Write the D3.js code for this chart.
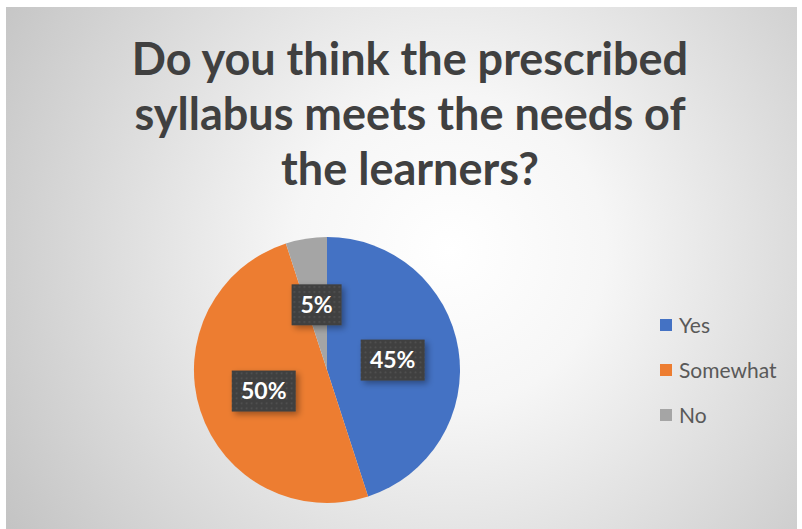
<!DOCTYPE html>
<html>
<head>
<meta charset="utf-8">
<script src="https://cdn.jsdelivr.net/npm/d3@7"></script>
<style>
  body { margin: 0; background: #fff; }
  svg { display: block; }
</style>
</head>
<body>
<div id="chart"></div>
<script>
// chart data
const categories = ["Yes", "Somewhat", "No"];
const values = [45, 50, 5];
const colors = ["#4472c4", "#ed7d31", "#a5a5a5"];
const titleLines = ["Do you think the prescribed", "syllabus meets the needs of", "the learners?"];

const w = 802;
const h = 529;
const cx = 327, cy = 370, r = 133;

const svg = d3.select("#chart").append("svg")
    .attr("width", w)
    .attr("height", h);

const defs = svg.append("defs");

// background gradient
const grad = defs.append("radialGradient")
    .attr("id", "bg")
    .attr("gradientUnits", "userSpaceOnUse")
    .attr("cx", 450).attr("cy", 250).attr("r", 520);
grad.append("stop").attr("offset", "0%").attr("stop-color", "#ffffff");
grad.append("stop").attr("offset", "30%").attr("stop-color", "#f6f6f6");
grad.append("stop").attr("offset", "100%").attr("stop-color", "#c4c4c4");

// dotted label fill
const pat = defs.append("pattern")
    .attr("id", "dots")
    .attr("patternUnits", "userSpaceOnUse")
    .attr("width", 5).attr("height", 5);
pat.append("rect").attr("width", 5).attr("height", 5).attr("fill", "#404040");
pat.append("rect").attr("x", 2).attr("y", 2).attr("width", 1.4).attr("height", 1.4).attr("fill", "#5a5a5a");

const shadow = defs.append("filter").attr("id", "shadow")
    .attr("x", "-30%").attr("y", "-30%").attr("width", "160%").attr("height", "160%");
shadow.append("feDropShadow")
    .attr("dx", 3).attr("dy", 3).attr("stdDeviation", 3)
    .attr("flood-color", "#000").attr("flood-opacity", 0.35);

// chart area
svg.append("rect")
    .attr("x", 6).attr("y", 7)
    .attr("width", 791).attr("height", h - 7)
    .attr("fill", "url(#bg)");

// title
const title = svg.append("text")
    .attr("text-anchor", "middle")
    .attr("font-family", "Lato, 'Open Sans', sans-serif")
    .attr("font-weight", "bold")
    .attr("font-size", 45)
    .attr("fill", "#404040");
title.selectAll("tspan")
    .data(titleLines)
    .enter()
    .append("tspan")
    .attr("x", 410)
    .attr("y", (d, i) => 75 + i * 55)
    .text(d => d);

// pie
const pie = d3.pie().sort(null).value(d => d);
const arcs = pie(values);
const arc = d3.arc().innerRadius(0).outerRadius(r);
const labelArc = d3.arc().innerRadius(r * 0.5).outerRadius(r * 0.5);

const g = svg.append("g").attr("transform", "translate(" + cx + "," + cy + ")");

g.selectAll("path")
    .data(arcs)
    .enter()
    .append("path")
    .attr("d", arc)
    .attr("fill", (d, i) => colors[i]);

// data labels
const labels = g.selectAll(".lbl")
    .data(arcs)
    .enter()
    .append("g")
    .attr("class", "lbl")
    .attr("transform", d => "translate(" + labelArc.centroid(d) + ")");

labels.append("rect")
    .attr("x", d => d.data < 10 ? -25 : -32)
    .attr("y", -20)
    .attr("width", d => d.data < 10 ? 50 : 64)
    .attr("height", 41)
    .attr("fill", "url(#dots)")
    .attr("filter", "url(#shadow)");

labels.append("text")
    .attr("text-anchor", "middle")
    .attr("dy", "0.36em")
    .attr("font-family", "Lato, 'Open Sans', sans-serif")
    .attr("font-weight", "bold")
    .attr("font-size", 23)
    .attr("fill", "#fff")
    .text(d => d.data + "%");

// legend
const legend = svg.append("g").attr("transform", "translate(660,325)");
const items = legend.selectAll("g")
    .data(categories)
    .enter()
    .append("g")
    .attr("transform", (d, i) => "translate(0," + i * 45 + ")");
items.append("rect")
    .attr("x", 0).attr("y", -6)
    .attr("width", 12).attr("height", 12)
    .attr("fill", (d, i) => colors[i]);
items.append("text")
    .attr("x", 19)
    .attr("dy", "0.36em")
    .attr("font-family", "Lato, 'Open Sans', sans-serif")
    .attr("font-size", 21)
    .attr("fill", "#595959")
    .text(d => d);
</script>
</body>
</html>
